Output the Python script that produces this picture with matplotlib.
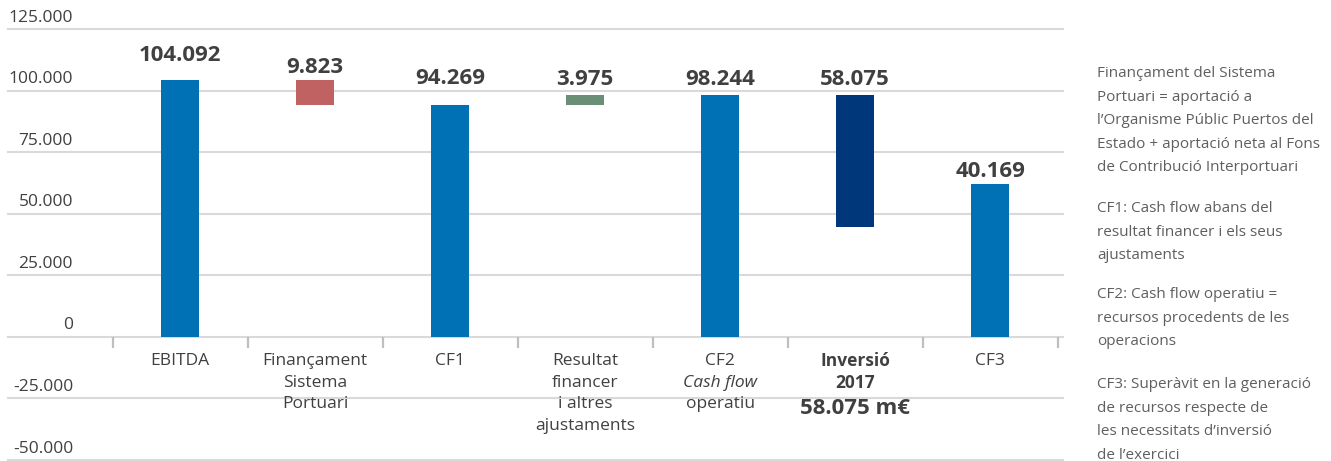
import matplotlib

matplotlib.use("Agg")
import matplotlib.pyplot as plt
import matplotlib.transforms as mtransforms

plt.rcParams["font.family"] = ["Open Sans", "DejaVu Sans"]

# values (the last two bars are drawn as they appear)
categories = ["EBITDA", "Finançament", "CF1", "Resultat", "CF2", "Inversió", "CF3"]
bar_bottoms = [0, 94269, 0, 94269, 0, 44640, 0]
bar_tops = [104092, 104092, 94269, 98244, 98244, 98244, 62100]
value_labels = ["104.092", "9.823", "94.269", "3.975", "98.244", "58.075", "40.169"]
label_offsets = [14, 2, 16, 5, 5, 5, 2]
bar_colors = ["#0071b5", "#c06262", "#0071b5", "#6b8e77", "#0071b5", "#00367a", "#0071b5"]

y_ticks = [-50000, -25000, 0, 25000, 50000, 75000, 100000, 125000]
y_tick_labels = ["-50.000", "-25.000", "0", "25.000", "50.000", "75.000", "100.000", "125.000"]

# category label lines: (text, weight, style, size)
cat_lines = [
    [("EBITDA", "normal", "normal", 12.5)],
    [("Finançament", "normal", "normal", 12.5), ("Sistema", "normal", "normal", 12.5),
     ("Portuari", "normal", "normal", 12.5)],
    [("CF1", "normal", "normal", 12.5)],
    [("Resultat", "normal", "normal", 12.5), ("financer", "normal", "normal", 12.5),
     ("i altres", "normal", "normal", 12.5), ("ajustaments", "normal", "normal", 12.5)],
    [("CF2", "normal", "normal", 12.5), ("Cash flow", "normal", "italic", 12.5),
     ("operatiu", "normal", "normal", 12.5)],
    [("Inversió", "bold", "normal", 12.5), ("2017", "bold", "normal", 12.5),
     ("58.075 m€", "bold", "normal", 16)],
    [("CF3", "normal", "normal", 12.5)],
]

notes = [
    "Finançament del Sistema\nPortuari = aportació a\nl’Organisme Públic Puertos del\n"
    "Estado + aportació neta al Fons\nde Contribució Interportuari",
    "CF1: Cash flow abans del\nresultat financer i els seus\najustaments",
    "CF2: Cash flow operatiu =\nrecursos procedents de les\noperacions",
    "CF3: Superàvit en la generació\nde recursos respecte de\nles necessitats d’inversió\nde l’exercici",
]

W, H = 1331, 461
fig = plt.figure(figsize=(W / 100, H / 100), dpi=100)
ax = fig.add_axes([8 / W, 0, (1063 - 8) / W, (H - 29) / H])
ax.set_xlim(-1.274, 6.54)
ax.set_ylim(-50400, 125000)

x = list(range(len(categories)))
heights = [t - b for t, b in zip(bar_tops, bar_bottoms)]
ax.bar(x, heights, bottom=bar_bottoms, width=0.28, color=bar_colors, zorder=3)

for xi, top, lab, off in zip(x, bar_tops, value_labels, label_offsets):
    ax.annotate(lab, (xi, top), xytext=(0, off * 0.72), textcoords="offset points",
                ha="center", va="bottom", fontsize=16, fontweight="bold", color="#404040")

# grid lines and tick labels sitting above them
trans = mtransforms.blended_transform_factory(ax.transAxes, ax.transData)
for v, lab in zip(y_ticks, y_tick_labels):
    ax.axhline(v, color="#d9d9d9", lw=1.5, zorder=1, clip_on=False)
    ax.annotate(lab, (65 / 1055, v), xycoords=trans, xytext=(0, 2.5),
                textcoords="offset points", ha="right", va="bottom",
                fontsize=12.5, color="#404040")

for s in ax.spines.values():
    s.set_visible(False)
ax.set_yticks([])
ax.spines["bottom"].set_position(("data", 0))
ax.set_xticks([i - 0.5 for i in range(len(categories) + 1)])
ax.set_xticklabels([])
ax.tick_params(axis="x", direction="out", length=8, width=1.6, color="#bfbfbf")

# category labels, line by line
for xi, lines in zip(x, cat_lines):
    y_px = 24
    for text, weight, style, size in lines:
        step = 21.7
        if size > 14:
            y_px += 4
        ax.annotate(text, (xi, 0), xytext=(0, -y_px * 0.72), textcoords="offset points",
                    ha="center", va="center", fontsize=size, fontweight=weight,
                    fontstyle=style, color="#404040")
        y_px += step

# notes on the right
note_tops = [66, 201, 287, 377]
for note, top in zip(notes, note_tops):
    fig.text(1097 / W, 1 - top / H, note, ha="left", va="top", fontsize=11,
             color="#5f5f5f", linespacing=1.78)

fig.savefig("out.png", dpi=100)
